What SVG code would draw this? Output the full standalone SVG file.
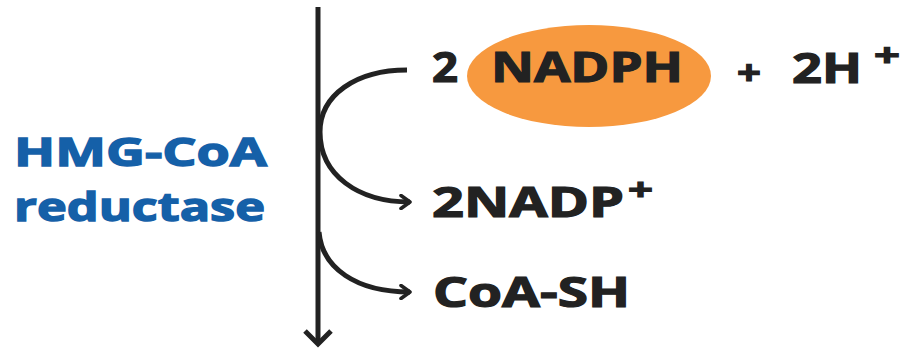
<svg xmlns="http://www.w3.org/2000/svg" width="909" height="350" viewBox="0 0 909 350">
<style>
.t{font-family:"Open Sans","DejaVu Sans",sans-serif;font-weight:bold;fill:#222;stroke:#222;stroke-width:1.2}
.b{font-family:"Open Sans","DejaVu Sans",sans-serif;font-weight:bold;fill:#1560a8;stroke:#1560a8;stroke-width:1.4}
.ln{fill:none;stroke:#222;stroke-width:5}
</style>
<defs>
<marker id="ah" viewBox="0 0 16 16" refX="13" refY="8" markerWidth="16" markerHeight="16" markerUnits="userSpaceOnUse" orient="auto">
<path d="M4,1.5 L13,8 L4,14.5" fill="none" stroke="#222" stroke-width="3.6" stroke-linecap="round" stroke-linejoin="round"/>
</marker>
</defs>
<rect width="909" height="350" fill="#fff"/>
<g id="connectors">
<path class="ln" d="M318,7 V343"/>
<path class="ln" d="M305,331 L318,344 L331,331"/>
<path class="ln" d="M407,70 C356,70 320,95 320,132 C320,175 358,202 410,202" marker-end="url(#ah)"/>
<path class="ln" d="M319,232 C322,268 356,292 410,292" marker-end="url(#ah)"/>
</g>
<g id="enzyme">
<text class="b" x="14" y="166" font-size="40" textLength="253" lengthAdjust="spacingAndGlyphs">HMG-CoA</text>
<text class="b" x="14" y="221" font-size="40" textLength="251" lengthAdjust="spacingAndGlyphs">reductase</text>
</g>
<g id="nadph">
<ellipse cx="589" cy="76" rx="122" ry="51" fill="#f7993f"/>
<text class="t" x="432" y="82" font-size="41" textLength="26" lengthAdjust="spacingAndGlyphs">2</text>
<text class="t" x="491" y="82" font-size="41" textLength="192" lengthAdjust="spacingAndGlyphs">NADPH</text>
</g>
<g id="proton">
<text class="t" x="737" y="85" font-size="34" textLength="24" lengthAdjust="spacingAndGlyphs">+</text>
<text class="t" x="792" y="83" font-size="41" textLength="70" lengthAdjust="spacingAndGlyphs">2H</text>
<text class="t" x="874" y="67" font-size="32" textLength="26" lengthAdjust="spacingAndGlyphs">+</text>
</g>
<g id="nadp">
<text class="t" x="432" y="217" font-size="41" textLength="192" lengthAdjust="spacingAndGlyphs">2NADP</text>
<text class="t" x="628" y="200" font-size="30" textLength="25" lengthAdjust="spacingAndGlyphs">+</text>
</g>
<g id="coash">
<text class="t" x="433" y="307" font-size="41" textLength="197" lengthAdjust="spacingAndGlyphs">CoA-SH</text>
</g>
</svg>
